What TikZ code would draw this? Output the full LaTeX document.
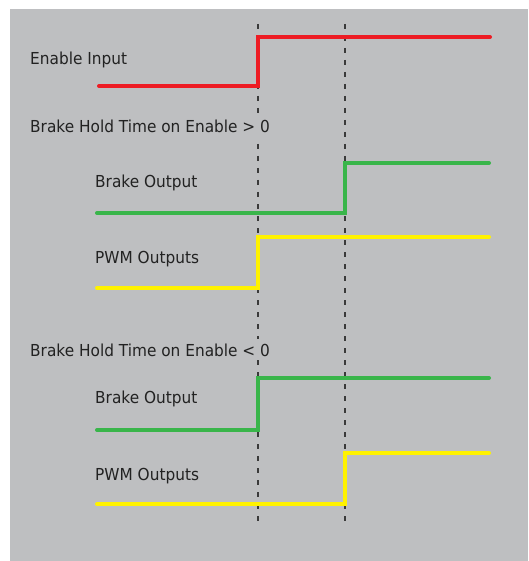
\documentclass[tikz,border=0pt]{standalone}
\usepackage{fontspec}
\setmainfont{DejaVu Sans}[FakeStretch=0.93]
\usetikzlibrary{positioning}
\definecolor{bg}{HTML}{BEBFC1}
\definecolor{ink}{HTML}{222222}
\definecolor{guide}{HTML}{3A3A3A}
\definecolor{sigred}{HTML}{ED1C24}
\definecolor{siggreen}{HTML}{39B54A}
\definecolor{sigyellow}{HTML}{FFF200}
\tikzset{lbl/.style={anchor=base west,inner sep=0pt,text=ink,font=\fontsize{16.5}{18}\selectfont},
 head/.style={lbl,fill=bg,inner xsep=0pt,inner ysep=4pt},
 sig/.style={line width=4pt,line cap=round,line join=miter},
 guideline/.style={draw=guide,line width=1.3pt,dash pattern=on 5pt off 7pt}}
\begin{document}
\begin{tikzpicture}[x=1pt,y=-1pt]
\useasboundingbox (0,0) rectangle (528,561);
\fill[bg] (10,9) rectangle (528,561);
% time marks
\foreach \t/\n in {258/ta,345/tb}{\coordinate (\n top) at (\t,24);\coordinate (\n bot) at (\t,522);
 \draw[guideline] (\n top)--(\n bot);}
% labels
\node[lbl] (en) at (30,65) {Enable Input};
\node[head] (pos) at (30,133) {Brake Hold Time on Enable > 0};
\node[lbl] (br1) at (95,188) {Brake Output};
\node[lbl] (pw1) at (95,263) {PWM Outputs};
\node[head] (neg) at (30,356) {Brake Hold Time on Enable < 0};
\node[lbl] (br2) at (95,403) {Brake Output};
\node[lbl] (pw2) at (95,480) {PWM Outputs};
% waveforms
\draw[sig,sigred] (99,86)--(258,86)--(258,37)--(490,37);
\draw[sig,siggreen] (97,213)--(345,213)--(345,163)--(489,163);
\draw[sig,sigyellow] (97,288)--(258,288)--(258,237)--(489,237);
\draw[sig,siggreen] (97,430)--(258,430)--(258,378)--(489,378);
\draw[sig,sigyellow] (97,504)--(345,504)--(345,453)--(489,453);
\end{tikzpicture}
\end{document}
